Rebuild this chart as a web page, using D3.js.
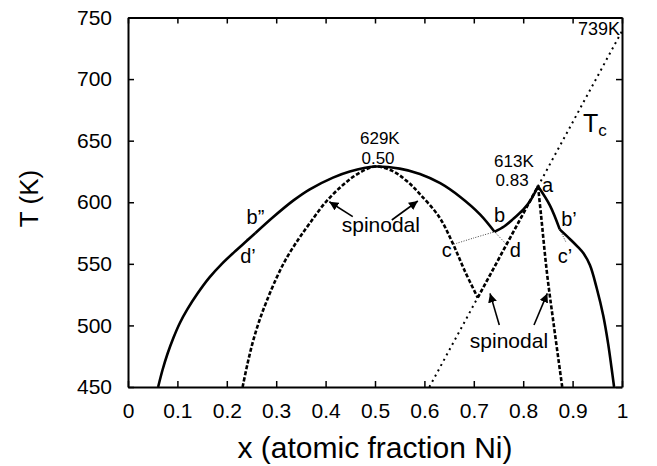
<!DOCTYPE html>
<html>
<head>
<meta charset="utf-8">
<script src="https://cdn.jsdelivr.net/npm/d3@7/dist/d3.min.js"></script>
<style>
  html, body { margin: 0; padding: 0; background: #fff; }
  svg { display: block; font-family: "Liberation Sans", Arial, Helvetica, sans-serif; }
</style>
</head>
<body>
<svg id="chart" width="657" height="466"></svg>
<script>
// Axis ticks
const xTickValues = [0, 0.1, 0.2, 0.3, 0.4, 0.5, 0.6, 0.7, 0.8, 0.9, 1];
const xTickLabels = ["0", "0.1", "0.2", "0.3", "0.4", "0.5", "0.6", "0.7", "0.8", "0.9", "1"];
const yTickValues = [450, 500, 550, 600, 650, 700, 750];

// Miscibility gap (solid), split at the kinks b'', b, a, b'  — [x, T]
const binodalLeft = [[0.061,450],[0.070,464],[0.080,477],[0.092,490],[0.105,502],[0.120,513],[0.140,525.5],[0.165,539],[0.190,550],[0.215,559.5],[0.240,568.5],[0.258,575]];
const binodalDome = [[0.258,575],[0.294,588],[0.335,601.5],[0.368,610.5],[0.415,620],[0.449,625],[0.500,629],[0.550,627.3],[0.591,623],[0.632,615.5],[0.672,604.5],[0.713,590],[0.742,576]];
const binodalRise = [[0.742,576],[0.762,580.5],[0.780,586.5],[0.800,594],[0.814,601],[0.830,613]];
const binodalDrop = [[0.830,613],[0.854,597.5],[0.874,578]];
const binodalRight = [[0.874,578],[0.895,570],[0.910,564],[0.922,558.5],[0.935,549],[0.949,530],[0.962,508],[0.972,485],[0.979,465],[0.984,450]];

// Spinodals (dashed)
const spinodalDome = [[0.232,450],[0.242,469],[0.253,487],[0.266,504],[0.280,519],[0.300,538],[0.320,554],[0.345,570],[0.368,583],[0.400,600],[0.435,614],[0.465,623],[0.500,629],[0.535,625.5],[0.565,617],[0.590,607],[0.630,588],[0.657,567],[0.682,544],[0.708,522.5]];
const spinodalRise = [[0.708,522.5],[0.830,613]];
const spinodalRight = [[0.830,613],[0.836,590],[0.848,543],[0.862,500],[0.879,450]];

// Curie temperature line (dotted)
const curieLine = [[0.61,450],[1.0,739]];

// Thin dotted tie curves
const tieCB = [[0.660,566],[0.700,571],[0.742,576]];
const tieBD = [[0.742,576],[0.768,565]];
const tieBpCp = [[0.874,578],[0.886,568]];
const tieBppDp = [[0.240,570],[0.258,575]];

// Arrows pointing at the spinodals: [from, to]
const arrows = [
  [[0.455,588.3],[0.4075,600.4]],
  [[0.534,585.6],[0.5867,601]],
  [[0.7516,500.3],[0.7328,526]],
  [[0.8219,500.3],[0.8488,526]]
];

// Text annotations anchored in data space (two-line ones stacked with tspans)
const notes = [
  {t:["629K", "0.50"], x:0.4696, T:646.9, size:17, anchor:"start"},
  {t:["613K", "0.83"], x:0.741, T:629, size:17, anchor:"start"},
  {t:["739K"], x:0.996, T:735.8, size:18, anchor:"end"},
  {t:["a"], x:0.838, T:608.6, size:20, anchor:"start"},
  {t:["b"], x:0.741, T:584.2, size:20, anchor:"start"},
  {t:["b\u2019"], x:0.877, T:580.7, size:20, anchor:"start"},
  {t:["c"], x:0.635, T:555.8, size:20, anchor:"start"},
  {t:["d"], x:0.773, T:555.8, size:20, anchor:"start"},
  {t:["c\u2019"], x:0.870, T:550.4, size:20, anchor:"start"},
  {t:["b\u201D"], x:0.240, T:582.3, size:20, anchor:"start"},
  {t:["d\u2019"], x:0.227, T:550.7, size:20, anchor:"start"},
  {t:["spinodal"], x:0.4326, T:575.8, size:21, anchor:"start"},
  {t:["spinodal"], x:0.692, T:481.7, size:21, anchor:"start"}
];

const W = 657, H = 466;
const margin = {top: 17.5, right: 35, bottom: 79, left: 128};
const svg = d3.select("#chart");
svg.append("rect").attr("width", W).attr("height", H).attr("fill", "#fff");

const x = d3.scaleLinear().domain([0, 1]).range([margin.left, W - margin.right]);
const y = d3.scaleLinear().domain([450, 750]).range([H - margin.bottom, margin.top]);

const line = d3.line().x(d => x(d[0])).y(d => y(d[1])).curve(d3.curveCatmullRom.alpha(0.5));
const straight = d3.line().x(d => x(d[0])).y(d => y(d[1]));

const plot = svg.append("g");

// Curie line
plot.append("path").attr("d", straight(curieLine))
  .attr("fill", "none").attr("stroke", "#000").attr("stroke-width", 2)
  .attr("stroke-dasharray", "2,4");

// Thin dotted tie curves
[tieCB, tieBD, tieBpCp, tieBppDp].forEach(seg => {
  plot.append("path").attr("d", line(seg))
    .attr("fill", "none").attr("stroke", "#444").attr("stroke-width", 1)
    .attr("stroke-dasharray", "1,1.5");
});

// Spinodals
[spinodalDome, spinodalRise, spinodalRight].forEach(seg => {
  plot.append("path").attr("d", line(seg))
    .attr("fill", "none").attr("stroke", "#000").attr("stroke-width", 2.6)
    .attr("stroke-dasharray", "4,2");
});

// Miscibility gap
[binodalLeft, binodalDome, binodalRise, binodalDrop, binodalRight].forEach(seg => {
  plot.append("path").attr("d", line(seg))
    .attr("fill", "none").attr("stroke", "#000").attr("stroke-width", 2.6)
    .attr("stroke-linejoin", "miter");
});

// Arrows
const defs = svg.append("defs");
defs.append("marker").attr("id", "head").attr("viewBox", "0 0 10 10")
  .attr("refX", 10).attr("refY", 5).attr("markerWidth", 9).attr("markerHeight", 9)
  .attr("markerUnits", "userSpaceOnUse").attr("orient", "auto")
  .append("path").attr("d", "M0,0 L10,5 L0,10 Z").attr("fill", "#000");
arrows.forEach(a => {
  plot.append("line")
    .attr("x1", x(a[0][0])).attr("y1", y(a[0][1]))
    .attr("x2", x(a[1][0])).attr("y2", y(a[1][1]))
    .attr("stroke", "#000").attr("stroke-width", 1.6)
    .attr("marker-end", "url(#head)");
});

// Annotations
notes.forEach(n => {
  const t = plot.append("text").attr("x", x(n.x)).attr("y", y(n.T))
    .attr("font-size", n.size).attr("text-anchor", n.anchor).attr("fill", "#000");
  n.t.forEach((s, i) => {
    t.append("tspan").attr("x", x(n.x) + (i ? 1.5 : 0)).attr("dy", i ? 19.2 : 0).text(s);
  });
});
const tc = plot.append("text").attr("x", x(0.921)).attr("y", y(657)).attr("font-size", 25).attr("fill", "#000");
tc.append("tspan").text("T");
tc.append("tspan").attr("font-size", 17).attr("dy", 4).text("c");

// Axes with inward ticks on all four sides
const tickLen = 6;
const gx = svg.append("g").attr("transform", `translate(0,${H - margin.bottom})`)
  .call(d3.axisBottom(x).tickValues(xTickValues).tickFormat((d, i) => xTickLabels[i])
    .tickSize(-tickLen).tickSizeOuter(0).tickPadding(16));
const gxt = svg.append("g").attr("transform", `translate(0,${margin.top})`)
  .call(d3.axisTop(x).tickValues(xTickValues).tickFormat("").tickSize(-tickLen).tickSizeOuter(0));
const gy = svg.append("g").attr("transform", `translate(${margin.left},0)`)
  .call(d3.axisLeft(y).tickValues(yTickValues).tickFormat(d3.format("d"))
    .tickSize(-tickLen).tickSizeOuter(0).tickPadding(16));
const gyr = svg.append("g").attr("transform", `translate(${W - margin.right},0)`)
  .call(d3.axisRight(y).tickValues(yTickValues).tickFormat("").tickSize(-tickLen).tickSizeOuter(0));

[gx, gxt, gy, gyr].forEach(g => {
  g.select(".domain").attr("stroke", "#000").attr("stroke-width", 2);
  g.selectAll(".tick line").attr("stroke", "#000").attr("stroke-width", 1.5);
  g.selectAll(".tick text").attr("font-size", 21).attr("fill", "#000")
    .attr("font-family", "'Liberation Sans', Arial, sans-serif");
});

// Axis titles
svg.append("text").attr("x", (margin.left + W - margin.right) / 2).attr("y", 458)
  .attr("text-anchor", "middle").attr("font-size", 30).attr("fill", "#000")
  .text("x (atomic fraction Ni)");
svg.append("text").attr("transform", "translate(38,198.5) rotate(-90)")
  .attr("text-anchor", "middle").attr("font-size", 26).attr("fill", "#000")
  .text("T (K)");
</script>
</body>
</html>
